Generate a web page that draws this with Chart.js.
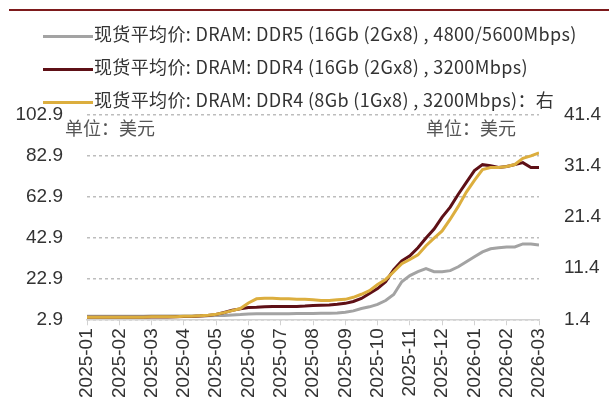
<!DOCTYPE html>
<html lang="zh-CN">
<head>
<meta charset="UTF-8">
<title>DRAM 现货平均价</title>
<script src="https://cdn.jsdelivr.net/npm/chart.js"></script>
<style>
    body {
        margin: 0;
        background: #fff;
    }
    #wrap {
        position: relative;
        width: 609px;
        height: 412px;
        overflow: hidden;
    }
    .rule {
        position: absolute;
        left: 9px;
        right: 0;
        top: 9px;
        height: 2px;
        background: #7d1a1c;
    }
    #legend {
        position: absolute;
        left: 43px;
        top: 19px;
        font-family: "Noto Sans CJK SC", sans-serif;
        font-size: 18px;
        letter-spacing: 0.35px;
        color: #333;
    }
    .row {
        height: 33px;
        line-height: 28px;
        white-space: nowrap;
    }
    .swatch {
        display: inline-block;
        width: 50px;
        height: 3px;
        vertical-align: middle;
        margin-right: 1px;
    }
    .unit {
        position: absolute;
        top: 114px;
        font-family: "Noto Sans CJK SC", sans-serif;
        font-size: 18px;
        color: #555;
    }
    canvas {
        position: absolute;
        left: 0;
        top: 0;
    }
</style>
</head>
<body>
<div id="wrap">
    <div class="rule"></div>
    <canvas id="chart" width="609" height="412"></canvas>
    <div id="legend"></div>
    <span class="unit" style="left:65px">单位：美元</span>
    <span class="unit" style="left:426px">单位：美元</span>
</div>

<script>
    // x-axis months; samples below are weekly (4 per month), first sample = 2025-01
    const months = ['2025-01', '2025-02', '2025-03', '2025-04', '2025-05', '2025-06', '2025-07', '2025-08',
        '2025-09', '2025-10', '2025-11', '2025-12', '2026-01', '2026-02', '2026-03'];
    const leftTicks = ['2.9', '22.9', '42.9', '62.9', '82.9', '102.9'];
    const rightTicks = ['1.4', '11.4', '21.4', '31.4', '41.4'];

    const labels = [
        '现货平均价: DRAM: DDR5 (16Gb (2Gx8) , 4800/5600Mbps)',
        '现货平均价: DRAM: DDR4 (16Gb (2Gx8) , 3200Mbps)',
        '现货平均价: DRAM: DDR4 (8Gb (1Gx8) , 3200Mbps)：右'
    ];

    // DDR5 16Gb, USD, left axis
    const ddr5 = [4.4, 4.4, 4.4, 4.4, 4.4, 4.4, 4.4, 4.4, 4.5, 4.5, 4.5, 4.5, 4.5, 4.5, 4.6, 4.6, 4.7,
        4.8, 5.0, 5.2, 5.5, 5.6, 5.6, 5.6, 5.6, 5.6, 5.7, 5.7, 5.7, 5.8, 5.8, 6.0, 6.3,
        7.0, 8.2, 9.0, 10.2, 12.1, 15.0, 21.3, 24.3, 26.2, 27.7, 26.2, 26.2, 26.7, 28.6, 31.1, 33.5,
        35.9, 37.4, 37.9, 38.3, 38.3, 39.8, 39.8, 39.3];

    // DDR4 16Gb, USD, left axis
    const ddr4_16 = [3.9, 3.9, 3.9, 3.9, 3.9, 3.9, 3.9, 3.9, 4.0, 4.0, 4.0, 4.1, 4.2, 4.3, 4.5, 4.8, 5.3,
        6.2, 7.3, 8.0, 8.7, 8.8, 9.0, 9.1, 9.2, 9.2, 9.2, 9.4, 9.7, 9.8, 9.9, 10.2, 10.7,
        11.6, 13.1, 15.5, 17.9, 21.3, 27.2, 31.5, 34.0, 37.9, 42.7, 47.1, 52.9, 57.8, 64.1, 69.9, 75.7,
        78.6, 78.1, 77.2, 77.7, 78.6, 79.6, 77.2, 77.2];

    // DDR4 8Gb, USD, right axis
    const ddr4_8 = [1.8, 1.8, 1.8, 1.8, 1.8, 1.8, 1.8, 1.8, 1.9, 1.9, 1.9, 1.9, 2.0, 2.0, 2.1, 2.2, 2.4,
        2.7, 3.1, 3.5, 4.6, 5.4, 5.5, 5.5, 5.4, 5.4, 5.3, 5.3, 5.2, 5.1, 5.1, 5.2, 5.3,
        5.7, 6.3, 7.0, 8.2, 9.2, 10.7, 12.3, 13.1, 14.0, 15.8, 17.3, 18.7, 21.0, 23.5, 26.3, 28.6,
        30.7, 31.1, 31.1, 31.3, 31.7, 32.9, 33.4, 34.0];

    const colors = ['#a3a3a3', '#5e1016', '#dcae3e'];
    const tickFont = { family: 'Liberation Sans, Arial, sans-serif', size: 19 };

    function toPoints(values) {
        return values.map((v, i) => ({ x: i / 4, y: v }));
    }

    function line(i, values, axis, order) {
        return {
            label: labels[i],
            data: toPoints(values),
            yAxisID: axis,
            borderColor: colors[i],
            backgroundColor: colors[i],
            borderWidth: 3,
            pointRadius: 0,
            tension: 0,
            order: order
        };
    }

    const datasets = [
        line(0, ddr5, 'y', 2),
        line(1, ddr4_16, 'y', 1),
        line(2, ddr4_8, 'y1', 0)
    ];

    // legend rows
    const legend = document.getElementById('legend');
    datasets.forEach(ds => {
        const row = document.createElement('div');
        row.className = 'row';
        const sw = document.createElement('span');
        sw.className = 'swatch';
        sw.style.background = ds.borderColor;
        row.appendChild(sw);
        row.appendChild(document.createTextNode(ds.label));
        legend.appendChild(row);
    });

    new Chart(document.getElementById('chart'), {
        type: 'line',
        data: { datasets: datasets },
        options: {
            responsive: false,
            animation: false,
            layout: { padding: { top: 115, bottom: 11, left: 0, right: 0 } },
            plugins: { legend: { display: false }, tooltip: { enabled: false } },
            scales: {
                x: {
                    type: 'linear',
                    min: 0,
                    max: 14,
                    grid: { drawOnChartArea: false, color: '#d2d2d2', tickLength: 6 },
                    border: { display: true, color: '#d2d2d2', width: 1.5, z: 1 },
                    ticks: {
                        stepSize: 1,
                        autoSkip: false,
                        minRotation: 90,
                        maxRotation: 90,
                        padding: 3,
                        color: '#333',
                        font: tickFont,
                        callback: v => months[v]
                    }
                },
                y: {
                    position: 'left',
                    min: 2.9,
                    max: 102.9,
                    afterFit: s => { s.width = 87; },
                    // dashed horizontal guides
                    grid: { color: '#bdbdbd', lineWidth: 1.5, tickLength: 0 },
                    border: { display: false, dash: [3, 3] },
                    ticks: {
                        stepSize: 20,
                        padding: 24,
                        color: '#333',
                        font: tickFont,
                        callback: (v, i) => leftTicks[i]
                    }
                },
                y1: {
                    position: 'right',
                    min: 1.4,
                    max: 41.4,
                    afterFit: s => { s.width = 70; },
                    grid: { display: false },
                    border: { display: false },
                    ticks: {
                        stepSize: 10,
                        padding: 17,
                        color: '#333',
                        font: tickFont,
                        callback: (v, i) => rightTicks[i]
                    }
                }
            }
        }
    });
</script>
</body>
</html>
